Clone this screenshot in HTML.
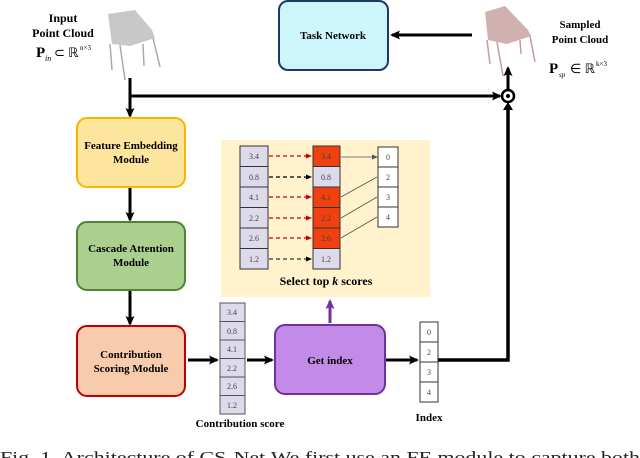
<!DOCTYPE html>
<html><head><meta charset="utf-8"><style>
html,body{margin:0;padding:0;background:#fff;}
svg{display:block;}
text{font-family:"Liberation Serif",serif;}
</style></head><body>
<svg width="640" height="458" viewBox="0 0 640 458" xmlns="http://www.w3.org/2000/svg">
<defs>
<marker id="ab" markerWidth="10" markerHeight="10" refX="8" refY="5" orient="auto" markerUnits="userSpaceOnUse"><path d="M0,0.5 L10,5 L0,9.5 L2,5 z" fill="#000"/></marker>
<marker id="ap" markerWidth="10" markerHeight="10" refX="8" refY="5" orient="auto" markerUnits="userSpaceOnUse"><path d="M0,0.5 L10,5 L0,9.5 L2,5 z" fill="#7030a0"/></marker>
<marker id="ar" markerWidth="6" markerHeight="6" refX="5" refY="3" orient="auto" markerUnits="userSpaceOnUse"><path d="M0,0.5 L6,3 L0,5.5 z" fill="#c00"/></marker>
<marker id="ak" markerWidth="6" markerHeight="6" refX="5" refY="3" orient="auto" markerUnits="userSpaceOnUse"><path d="M0,0.5 L6,3 L0,5.5 z" fill="#000"/></marker>
<marker id="ag" markerWidth="6" markerHeight="6" refX="5" refY="3" orient="auto" markerUnits="userSpaceOnUse"><path d="M0,0.5 L6,3 L0,5.5 z" fill="#555"/></marker>
</defs>

<!-- Input labels -->
<text x="63" y="22" font-size="12" font-weight="bold" text-anchor="middle">Input</text>
<text x="63" y="37" font-size="12" font-weight="bold" text-anchor="middle">Point Cloud</text>
<text x="36" y="57" font-size="15" font-weight="bold">P</text>
<text x="45" y="61" font-size="8" font-style="italic">in</text>
<text x="54" y="57" font-size="13">⊂ ℝ</text>
<text x="80" y="50" font-size="7">n×3</text>
<!-- input chair -->
<path d="M108,14 L135,10 L152,30 L155,38 L130,46 L112,44 Z" fill="#c8c8c8"/>
<path d="M110,44 L112,70 M120,45 L125,80 M143,44 L144,66 M153,38 L160,67" stroke="#aaa" stroke-width="1.5"/>

<!-- Task network -->
<rect x="279" y="1" width="109" height="69" rx="9" fill="#ccf6fb" stroke="#1f3864" stroke-width="2"/>
<text x="333" y="39" font-size="11" font-weight="bold" text-anchor="middle">Task Network</text>
<line x1="472" y1="35" x2="392" y2="35" stroke="#000" stroke-width="3" marker-end="url(#ab)"/>

<!-- sampled chair -->
<path d="M485,12 L505,6 L528,30 L531,36 L507,44 L488,40 Z" fill="#d0b0b0"/>
<path d="M487,40 L490,64 M497,42 L503,76 M520,40 L521,54 M530,36 L535,62" stroke="#c99" stroke-width="1.5"/>
<text x="580" y="28" font-size="11" font-weight="bold" text-anchor="middle">Sampled</text>
<text x="580" y="43" font-size="11" font-weight="bold" text-anchor="middle">Point Cloud</text>
<text x="549" y="73" font-size="15" font-weight="bold">P</text>
<text x="559" y="77" font-size="7" font-style="italic">sp</text>
<text x="570" y="73" font-size="13">∈ ℝ</text>
<text x="596" y="66" font-size="7">k×3</text>

<!-- main trunk -->
<line x1="130" y1="78" x2="130" y2="116" stroke="#000" stroke-width="3" marker-end="url(#ab)"/>
<line x1="130" y1="96" x2="500" y2="96" stroke="#000" stroke-width="3" marker-end="url(#ab)"/>
<circle cx="508" cy="96" r="6" fill="#fff" stroke="#000" stroke-width="2.5"/>
<circle cx="508" cy="96" r="2" fill="#000"/>
<line x1="508" y1="89" x2="508" y2="68" stroke="#000" stroke-width="3" marker-end="url(#ab)"/>

<!-- FE -->
<rect x="77" y="118" width="108" height="69" rx="10" fill="#fde59d" stroke="#f5b700" stroke-width="2"/>
<text x="131" y="149" font-size="11" font-weight="bold" text-anchor="middle">Feature Embedding</text>
<text x="131" y="163" font-size="11" font-weight="bold" text-anchor="middle">Module</text>
<line x1="130" y1="188" x2="130" y2="220" stroke="#000" stroke-width="3" marker-end="url(#ab)"/>

<!-- Cascade -->
<rect x="77" y="222" width="108" height="68" rx="10" fill="#a9d08e" stroke="#548235" stroke-width="2"/>
<text x="131" y="252" font-size="11" font-weight="bold" text-anchor="middle">Cascade Attention</text>
<text x="131" y="266" font-size="11" font-weight="bold" text-anchor="middle">Module</text>
<line x1="130" y1="291" x2="130" y2="324" stroke="#000" stroke-width="3" marker-end="url(#ab)"/>

<!-- CS -->
<rect x="77" y="326" width="108" height="70" rx="10" fill="#f8cbad" stroke="#c00000" stroke-width="2"/>
<text x="131" y="358" font-size="11" font-weight="bold" text-anchor="middle">Contribution</text>
<text x="131" y="372" font-size="11" font-weight="bold" text-anchor="middle">Scoring Module</text>
<line x1="188" y1="360" x2="217" y2="360" stroke="#000" stroke-width="3" marker-end="url(#ab)"/>

<!-- contribution column -->
<g stroke="#555" stroke-width="1" fill="#dcdaeb">
<rect x="220" y="303" width="25" height="18.5"/><rect x="220" y="321.5" width="25" height="18.5"/>
<rect x="220" y="340" width="25" height="18.5"/><rect x="220" y="358.5" width="25" height="18.5"/>
<rect x="220" y="377" width="25" height="18.5"/><rect x="220" y="395.5" width="25" height="18.5"/>
</g>
<g font-size="8" text-anchor="middle" fill="#444">
<text x="232" y="315">3.4</text><text x="232" y="334">0.8</text><text x="232" y="352">4.1</text>
<text x="232" y="371">2.2</text><text x="232" y="389">2.6</text><text x="232" y="408">1.2</text>
</g>
<text x="240" y="427" font-size="11" font-weight="bold" text-anchor="middle">Contribution score</text>
<line x1="247" y1="360" x2="272" y2="360" stroke="#000" stroke-width="3" marker-end="url(#ab)"/>

<!-- Get index -->
<rect x="275" y="325" width="110" height="69" rx="10" fill="#c38be8" stroke="#7030a0" stroke-width="2"/>
<text x="330" y="364" font-size="11" font-weight="bold" text-anchor="middle">Get index</text>
<line x1="330" y1="323" x2="330" y2="301" stroke="#7030a0" stroke-width="3" marker-end="url(#ap)"/>
<line x1="386" y1="360" x2="417" y2="360" stroke="#000" stroke-width="3" marker-end="url(#ab)"/>

<!-- Index column -->
<g stroke="#333" stroke-width="1" fill="#fff">
<rect x="420" y="322" width="18" height="20"/><rect x="420" y="342" width="18" height="20"/>
<rect x="420" y="362" width="18" height="20"/><rect x="420" y="382" width="18" height="20"/>
</g>
<g font-size="8" text-anchor="middle" fill="#444">
<text x="429" y="335">0</text><text x="429" y="355">2</text><text x="429" y="375">3</text><text x="429" y="395">4</text>
</g>
<text x="429" y="421" font-size="11" font-weight="bold" text-anchor="middle">Index</text>
<polyline points="438,360 508,360 508,106" fill="none" stroke="#000" stroke-width="3.5"/>
<polygon points="503,110 508,102 513,110" fill="#000"/>

<!-- Select top-k panel -->
<rect x="221" y="140" width="209" height="157" fill="#fff2cc"/>
<g stroke="#333" stroke-width="1" fill="#dcdaeb">
<rect x="240" y="146" width="28" height="20.5"/><rect x="240" y="166.5" width="28" height="20.5"/>
<rect x="240" y="187" width="28" height="20.5"/><rect x="240" y="207.5" width="28" height="20.5"/>
<rect x="240" y="228" width="28" height="20.5"/><rect x="240" y="248.5" width="28" height="20.5"/>
</g>
<g stroke="#333" stroke-width="1">
<rect x="313" y="146" width="27" height="20.5" fill="#f04010"/><rect x="313" y="166.5" width="27" height="20.5" fill="#dcdaeb"/>
<rect x="313" y="187" width="27" height="20.5" fill="#f04010"/><rect x="313" y="207.5" width="27" height="20.5" fill="#f04010"/>
<rect x="313" y="228" width="27" height="20.5" fill="#f04010"/><rect x="313" y="248.5" width="27" height="20.5" fill="#dcdaeb"/>
</g>
<g font-size="8" text-anchor="middle" fill="#444">
<text x="254" y="159">3.4</text><text x="254" y="180">0.8</text><text x="254" y="200">4.1</text>
<text x="254" y="221">2.2</text><text x="254" y="241">2.6</text><text x="254" y="262">1.2</text>
<text x="326" y="159">3.4</text><text x="326" y="180">0.8</text><text x="326" y="200">4.1</text>
<text x="326" y="221">2.2</text><text x="326" y="241">2.6</text><text x="326" y="262">1.2</text>
</g>
<g stroke-width="1.3" stroke-dasharray="4,3">
<line x1="269" y1="156" x2="311" y2="156" stroke="#c00" marker-end="url(#ar)"/>
<line x1="269" y1="177" x2="311" y2="177" stroke="#000" marker-end="url(#ak)"/>
<line x1="269" y1="197" x2="311" y2="197" stroke="#c00" marker-end="url(#ar)"/>
<line x1="269" y1="218" x2="311" y2="218" stroke="#c00" marker-end="url(#ar)"/>
<line x1="269" y1="238" x2="311" y2="238" stroke="#c00" marker-end="url(#ar)"/>
<line x1="269" y1="259" x2="311" y2="259" stroke="#333" marker-end="url(#ak)"/>
</g>
<g stroke="#333" stroke-width="1" fill="#fff">
<rect x="378" y="147" width="20" height="20"/><rect x="378" y="167" width="20" height="20"/>
<rect x="378" y="187" width="20" height="20"/><rect x="378" y="207" width="20" height="20"/>
</g>
<g font-size="8" text-anchor="middle" fill="#444">
<text x="388" y="160">0</text><text x="388" y="180">2</text><text x="388" y="200">3</text><text x="388" y="220">4</text>
</g>
<g stroke="#555" stroke-width="0.8">
<line x1="341" y1="157" x2="377" y2="157" marker-end="url(#ag)"/>
<line x1="341" y1="197" x2="377" y2="177"/>
<line x1="341" y1="218" x2="377" y2="197"/>
<line x1="341" y1="238" x2="377" y2="217"/>
</g>
<text x="326" y="285" font-size="12" font-weight="bold" text-anchor="middle">Select top <tspan font-style="italic">k</tspan> scores</text>

<!-- caption -->
<text x="0" y="463" font-size="17" textLength="640" lengthAdjust="spacingAndGlyphs" fill="#222">Fig. 1.   Architecture of CS-Net.We first use an FE module to capture both</text>
</svg>
</body></html>
